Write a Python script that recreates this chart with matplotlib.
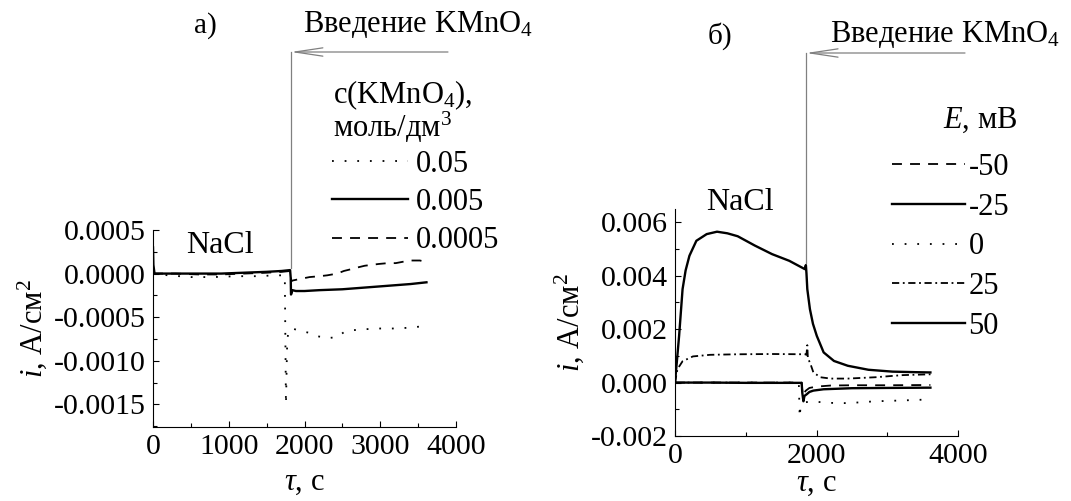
import matplotlib
matplotlib.use("Agg")
import matplotlib.pyplot as plt
from matplotlib.ticker import MultipleLocator, FormatStrFormatter

plt.rcParams['font.family'] = ['Liberation Serif', 'DejaVu Serif']
plt.rcParams['mathtext.fontset'] = 'custom'
plt.rcParams['mathtext.rm'] = 'Liberation Serif'
plt.rcParams['mathtext.it'] = 'Liberation Serif:italic'
plt.rcParams['mathtext.bf'] = 'Liberation Serif:bold'

# ---------------- data: panel a) ----------------
a_t_005 = [0, 200, 500, 800, 1100, 1400, 1600, 1740, 1755, 1762, 1768, 1775, 1790, 1840, 1950, 2068,
           2180, 2295, 2432, 2523, 2640, 2750, 3000, 3205, 3400, 3600]
a_i_005 = [0.0, -0.00002, -0.00004, -0.00004, -0.00003, -0.00003, -0.00002, -0.00002, -0.0015, -0.0012,
           -0.0009, -0.00075, -0.00065, -0.00063, -0.00066, -0.00068, -0.00072, -0.00074, -0.00073,
           -0.00067, -0.00065, -0.00064, -0.00063, -0.00063, -0.00062, -0.0006]

a_t_0005 = [0, 5, 20, 300, 600, 900, 1200, 1500, 1700, 1810, 1818, 1822, 1840, 1886, 2000, 2200, 2500,
            2800, 3100, 3400, 3610]
a_i_0005 = [0.0003, 0.0001, 0.0, 0.0, 0.0, 0.0, 0.00001, 0.00002, 0.00003, 0.00004, -0.00005, -0.00024,
            -0.00019, -0.0002, -0.0002, -0.00019, -0.00018, -0.00016, -0.00014, -0.00012, -0.0001]

a_t_00005 = [0, 300, 600, 900, 1200, 1500, 1700, 1815, 1825, 1840, 1950, 2068, 2200, 2300, 2432, 2520,
             2614, 2700, 2795, 2977, 3100, 3205, 3386, 3523, 3600]
a_i_00005 = [0.0, 0.0, -0.00001, -0.00001, 0.0, 0.00001, 0.00002, 0.00003, -0.00009, -0.00008, -0.00006,
             -0.00004, -0.00003, -0.00002, 0.0, 0.00003, 0.00005, 0.00007, 0.00009, 0.00011, 0.00012,
             0.00012, 0.00015, 0.00015, 0.000135]

a_labels = ['0.05', '0.005', '0.0005']
a_inject = 1820

# ---------------- data: panel б) ----------------
b_t_m50 = [0, 500, 1000, 1500, 1790, 1805, 1820, 1850, 1900, 2000, 2200, 2500, 3000, 3610]
b_i_m50 = [0.0, 0.0, 0.0, 0.0, 0.0, -0.0005, -0.0004, -0.0003, -0.0002, -0.00015, -0.00011, -0.0001,
           -0.0001, -0.00009]

b_t_m25 = [0, 500, 1000, 1500, 1790, 1800, 1815, 1830, 1860, 1900, 1956, 2100, 2500, 3000, 3610]
b_i_m25 = [0.0, 0.0, -0.00001, -0.00001, -0.00001, -0.0004, -0.0007, -0.0005, -0.00044, -0.00035,
           -0.0003, -0.00025, -0.00021, -0.0002, -0.00019]

b_t_0 = [0, 500, 1000, 1500, 1750, 1762, 1775, 1810, 1860, 2000, 2200, 2443, 2832, 3200, 3611]
b_i_0 = [0.0, 0.0, 0.0, 0.0, 0.0, -0.0013, -0.0009, -0.00075, -0.00073, -0.00072, -0.00076, -0.00077,
         -0.0007, -0.00067, -0.00063]

b_t_25 = [0, 34, 107, 253, 496, 886, 1372, 1840, 1858, 1870, 1878, 1908, 1956, 2054, 2200, 2443, 2832,
          3221, 3611]
b_i_25 = [0.0, 0.0005, 0.0008, 0.00098, 0.00104, 0.00106, 0.00107, 0.00106, 0.00104, 0.0014, 0.0009,
          0.00075, 0.00038, 0.0002, 0.00015, 0.00015, 0.0002, 0.00028, 0.00031]

b_t_50 = [0, 30, 58, 107, 150, 204, 302, 448, 594, 740, 886, 1129, 1372, 1615, 1834, 1850, 1858, 1870,
          1907, 1950, 2004, 2101, 2247, 2442, 2734, 3075, 3400, 3610]
b_i_50 = [0.0, 0.0009, 0.00175, 0.0035, 0.0042, 0.00475, 0.00531, 0.00556, 0.00565, 0.00559, 0.00548,
          0.00513, 0.00481, 0.00456, 0.00425, 0.0044, 0.0041, 0.0035, 0.00275, 0.0022, 0.00175, 0.00113,
          0.00081, 0.00063, 0.00048, 0.00041, 0.00039, 0.00038]

b_labels = ['-50', '-25', '0', '25', '50']
b_inject = 1852

# ---------------- styles ----------------
DOT = (0, (1, 6))
DASH = (0, (5.5, 4.5))
DASHDOT = (0, (4, 2, 1, 2))

W, H = 1071, 501
fig = plt.figure(figsize=(W / 100, H / 100), dpi=100)

def px_axes(l, r, t, b):
    return fig.add_axes([l / W, (H - b) / H, (r - l) / W, (b - t) / H])

def fx(x):
    return x / W

def fy(y):
    return (H - y) / H

TICK_FS = 21.5
LEG_FS = 22
LAB_FS = 22

def style_axes(ax):
    for s in ('top', 'right'):
        ax.spines[s].set_visible(False)
    ax.tick_params(which='major', direction='in', length=4, width=0.8, labelsize=TICK_FS, pad=5)
    ax.tick_params(which='minor', direction='in', length=3, width=0.8)

# ---------------- panel a ----------------
axa = px_axes(153, 456, 230, 427)
style_axes(axa)
axa.plot(a_t_005, a_i_005, color='black', lw=1.3, linestyle=DOT, label=a_labels[0])
axa.plot(a_t_0005, a_i_0005, color='black', lw=1.7, linestyle='-', label=a_labels[1])
axa.plot(a_t_00005, a_i_00005, color='black', lw=1.3, linestyle=DASH, label=a_labels[2])
axa.set_xlim(0, 4000)
axa.set_ylim(-0.00176, 0.0005)
axa.xaxis.set_major_locator(MultipleLocator(1000))
axa.xaxis.set_minor_locator(MultipleLocator(500))
axa.yaxis.set_major_locator(MultipleLocator(0.0005))
axa.yaxis.set_minor_locator(MultipleLocator(0.00025))
axa.yaxis.set_major_formatter(FormatStrFormatter('%.4f'))
axa.set_xlabel(r'$\tau$, с', fontsize=LAB_FS, labelpad=6)
axa.set_ylabel(r'$i$, A/см$^2$', fontsize=LAB_FS, labelpad=4)

axa.text(0.22, 0.92, 'NaCl', transform=axa.transAxes, fontsize=23, ha='center', va='center')

# injection marker a
ya_top = (427 - 52) / 197
ya_bot = (427 - 268) / 197
axa.plot([a_inject, a_inject], [ya_bot, ya_top], color='#808080', lw=0.9,
         transform=axa.get_xaxis_transform(), clip_on=False)
axa.annotate('', xy=(a_inject, ya_top), xycoords=axa.get_xaxis_transform(),
             xytext=(3894, ya_top), textcoords=axa.get_xaxis_transform(),
             arrowprops=dict(arrowstyle='->,head_length=2.0,head_width=0.3', color='#808080',
                             lw=0.9, mutation_scale=10, shrinkA=0, shrinkB=0))
fig.text(fx(303), fy(24), 'Введение KMnO$_4$', fontsize=22, ha='left', va='center')
fig.text(fx(205), fy(26), 'а)', fontsize=21, ha='center', va='center')

# legend a
fig.text(fx(333), fy(95), 'c(KMnO$_4$),', fontsize=LEG_FS, ha='left', va='center')
fig.text(fx(333), fy(127), 'моль/дм$^3$', fontsize=LEG_FS, ha='left', va='center')
axa.legend(loc='upper left', bbox_to_anchor=(fx(332), fy(150)), bbox_transform=fig.transFigure,
           frameon=False, fontsize=LEG_FS, handlelength=2.5, handletextpad=0.25, labelspacing=0.3,
           borderpad=0, borderaxespad=0)

# ---------------- panel б ----------------
axb = px_axes(675, 958, 209, 436)
style_axes(axb)
axb.plot(b_t_m50, b_i_m50, color='black', lw=1.3, linestyle=DASH, label=b_labels[0])
axb.plot(b_t_m25, b_i_m25, color='black', lw=1.7, linestyle='-', label=b_labels[1])
axb.plot(b_t_0, b_i_0, color='black', lw=1.3, linestyle=DOT, label=b_labels[2])
axb.plot(b_t_25, b_i_25, color='black', lw=1.3, linestyle=DASHDOT, label=b_labels[3])
axb.plot(b_t_50, b_i_50, color='black', lw=1.7, linestyle='-', label=b_labels[4])
axb.set_xlim(0, 4000)
axb.set_ylim(-0.002, 0.0065)
axb.xaxis.set_major_locator(MultipleLocator(2000))
axb.xaxis.set_minor_locator(MultipleLocator(1000))
axb.yaxis.set_major_locator(MultipleLocator(0.002))
axb.yaxis.set_minor_locator(MultipleLocator(0.001))
axb.yaxis.set_major_formatter(FormatStrFormatter('%.3f'))
axb.set_xlabel(r'$\tau$, с', fontsize=LAB_FS, labelpad=0)
axb.set_ylabel(r'$i$, A/см$^2$', fontsize=LAB_FS, labelpad=4)

axb.text(0.23, 1.03, 'NaCl', transform=axb.transAxes, fontsize=23, ha='center', va='center')

yb_top = (436 - 53) / 227
yb_bot = (436 - 263) / 227
axb.plot([b_inject, b_inject], [yb_bot, yb_top], color='#808080', lw=0.9,
         transform=axb.get_xaxis_transform(), clip_on=False)
axb.annotate('', xy=(b_inject, yb_top), xycoords=axb.get_xaxis_transform(),
             xytext=(4099, yb_top), textcoords=axb.get_xaxis_transform(),
             arrowprops=dict(arrowstyle='->,head_length=2.0,head_width=0.3', color='#808080',
                             lw=0.9, mutation_scale=10, shrinkA=0, shrinkB=0))
fig.text(fx(830), fy(34), 'Введение KMnO$_4$', fontsize=22, ha='left', va='center')
fig.text(fx(720), fy(36), 'б)', fontsize=21, ha='center', va='center')

fig.text(fx(943), fy(120), '$E$, мВ', fontsize=LEG_FS, ha='left', va='center')
axb.legend(loc='upper left', bbox_to_anchor=(fx(892), fy(153)), bbox_transform=fig.transFigure,
           frameon=False, fontsize=LEG_FS, handlelength=2.4, handletextpad=0.1, labelspacing=0.35,
           borderpad=0, borderaxespad=0)

fig.savefig('out.png', dpi=100)
